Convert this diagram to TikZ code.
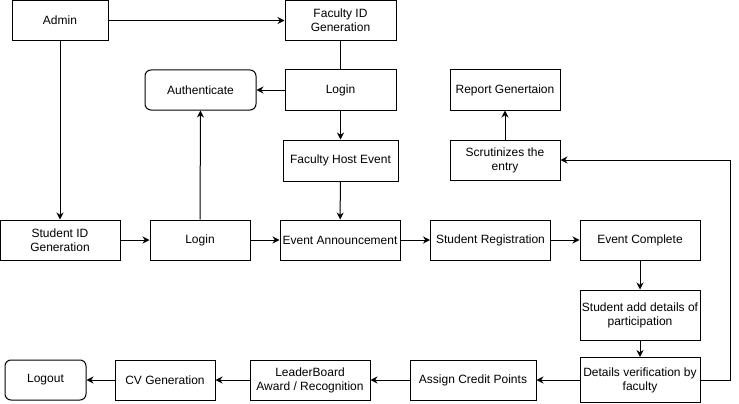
\documentclass[tikz,border=0pt]{standalone}
\usepackage{fontspec}
\setmainfont{Liberation Sans}
\usetikzlibrary{arrows.meta}
\begin{document}
\begin{tikzpicture}[x=1pt,y=-1pt,
  box/.style={draw=black,line width=1pt,rectangle,align=center,inner sep=1pt,
    font=\fontsize{12}{14}\selectfont,fill=white},
  rbox/.style={box,rounded corners=6pt},
  arr/.style={line width=1pt,-{Stealth[length=7pt,width=7pt]}},
  ln/.style={line width=1pt}]
\useasboundingbox[fill=white] (0,0) rectangle (739,404);
\node[box,minimum width=96pt,minimum height=40pt] (admin) at (60,20.5) {Admin};
\node[box,minimum width=111pt,minimum height=40pt] (facid) at (340.5,20.5) {Faculty ID\\Generation};
\node[box,minimum width=111pt,minimum height=40pt] (flogin) at (340.5,90) {Login};
\node[rbox,minimum width=111pt,minimum height=40pt] (auth) at (200.5,90) {Authenticate};
\node[box,minimum width=115pt,minimum height=41pt] (fhe) at (340.5,160.5) {Faculty Host Event};
\node[box,minimum width=120pt,minimum height=40pt] (stuid) at (60,240) {Student ID\\Generation};
\node[box,minimum width=100pt,minimum height=40pt] (slogin) at (200,240) {Login};
\node[box,minimum width=120pt,minimum height=40pt] (ea) at (340,240) {Event Announcement};
\node[box,minimum width=120pt,minimum height=40pt] (sr) at (490.5,240) {Student Registration};
\node[box,minimum width=120pt,minimum height=40pt] (ec) at (640,240) {Event Complete};
\node[box,minimum width=120pt,minimum height=50pt] (sad) at (640,315) {Student add details of\\participation};
\node[box,minimum width=120pt,minimum height=45pt] (dv) at (640,380) {Details verification by\\faculty};
\node[box,minimum width=126pt,minimum height=40pt] (acp) at (473,380) {Assign Credit Points};
\node[box,minimum width=120pt,minimum height=40pt] (lb) at (310,380) {LeaderBoard\\Award / Recognition};
\node[box,minimum width=100pt,minimum height=40pt] (cv) at (165,380) {CV Generation};
\node[rbox,minimum width=81pt,minimum height=40pt] (logout) at (45.5,380) {Logout};
\node[box,minimum width=110pt,minimum height=40pt] (scr) at (505,160) {Scrutinizes the\\entry};
\node[box,minimum width=110pt,minimum height=40pt] (rep) at (505,90) {Report Genertaion};
\coordinate (c1) at (730,160);
\draw[arr] (admin) -- (facid);
\draw[ln] (facid) -- (flogin);
\draw[arr] (flogin) -- (auth);
\draw[arr] (flogin) -- (fhe);
\draw[arr] (fhe) -- (ea);
\draw[arr] (admin) -- (stuid);
\draw[arr] (stuid) -- (slogin);
\draw[arr] (slogin) -- (ea);
\draw[arr] (slogin) -- (auth);
\draw[arr] (ea) -- (sr);
\draw[arr] (sr) -- (ec);
\draw[arr] (ec) -- (sad);
\draw[arr] (sad) -- (dv);
\draw[arr] (dv) -- (acp);
\draw[arr] (acp) -- (lb);
\draw[arr] (lb) -- (cv);
\draw[arr] (cv) -- (logout);
\draw[arr] (dv.east) -| (c1) -- (scr.east);
\draw[arr] (scr) -- (rep);
\end{tikzpicture}
\end{document}
